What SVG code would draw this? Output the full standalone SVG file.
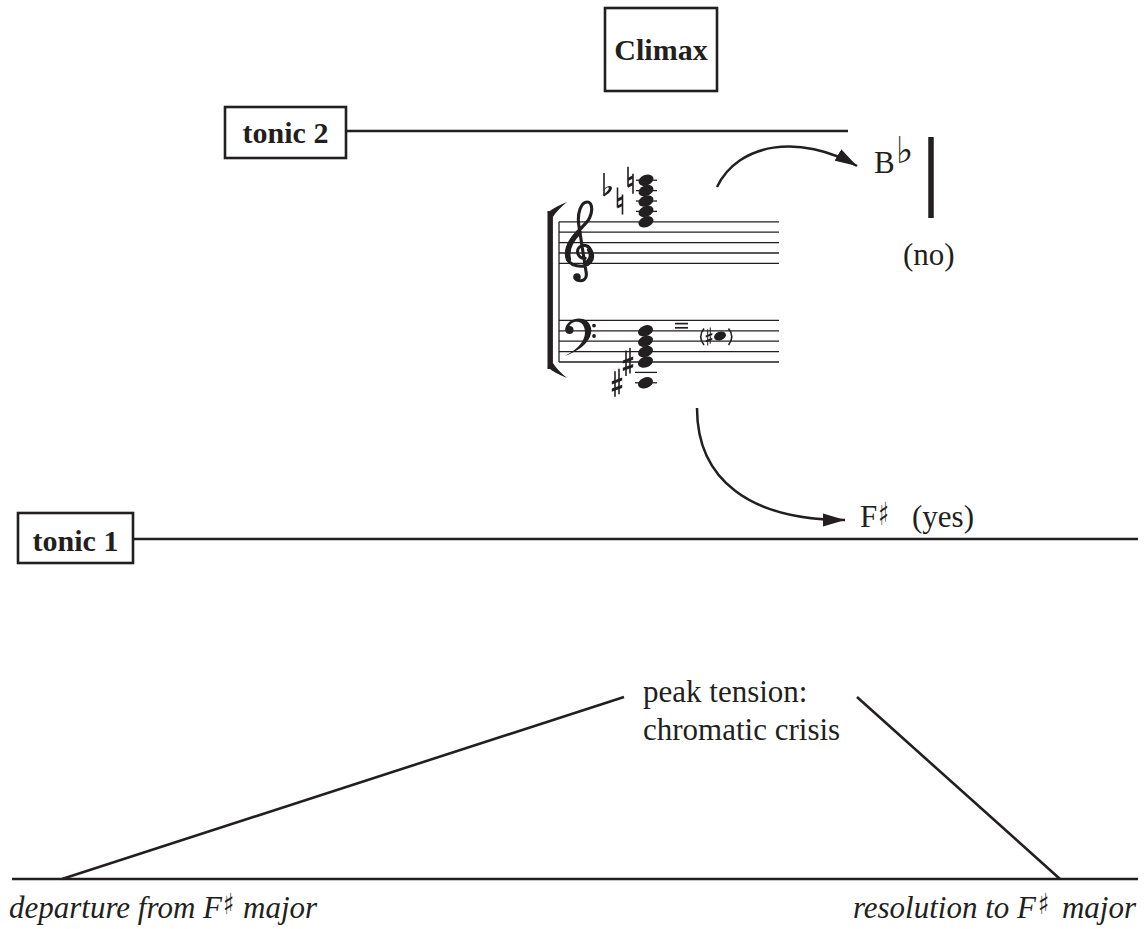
<svg xmlns="http://www.w3.org/2000/svg" xmlns:xlink="http://www.w3.org/1999/xlink" width="1144" height="929" viewBox="0 0 1144 929">
  <style>
    .box { fill: #fff; stroke: #231f20; stroke-width: 2.6; }
    .lbl { font-family: 'Liberation Serif', 'Times New Roman', serif; font-weight: bold; font-size: 30px; fill: #231f20; text-anchor: middle; }
    .txt { font-family: 'Liberation Serif', 'Times New Roman', serif; font-size: 31px; fill: #231f20; }
    .it { font-style: italic; }
    .sym { font-family: 'DejaVu Sans', sans-serif; fill: #231f20; }
    .ln { stroke: #231f20; stroke-width: 2.6; fill: none; }
    .arc { stroke: #231f20; stroke-width: 2.5; fill: none; }
    .staff { stroke: #231f20; stroke-width: 1.3; }
    .ink { fill: #231f20; }
    .thin { stroke: #231f20; stroke-width: 1.6; fill: none; }
  </style>
  <defs>
    <marker id="head" markerUnits="userSpaceOnUse" markerWidth="24" markerHeight="14" refX="22" refY="7" orient="auto">
      <path d="M0,0.5 L22,7 L0,13.5 Z" fill="#231f20"/>
    </marker>
    <ellipse id="nh" rx="7.8" ry="5.3" transform="rotate(-22)" fill="#231f20"/>
    <g id="natural">
      <line x1="-2.5" y1="-13.5" x2="-2.5" y2="6.5" class="thin"/>
      <line x1="2.5" y1="-6.5" x2="2.5" y2="13.5" class="thin"/>
      <polygon points="-2.5,-2.4 2.5,-4.9 2.5,-1.7 -2.5,0.8" fill="#231f20"/>
      <polygon points="-2.5,4.4 2.5,1.9 2.5,5.1 -2.5,7.6" fill="#231f20"/>
    </g>
    <g id="sharp">
      <line x1="-2" y1="-11.5" x2="-2" y2="14" class="thin"/>
      <line x1="2" y1="-14" x2="2" y2="11.5" class="thin"/>
      <polygon points="-5.2,-1.6 5.2,-5.4 5.2,-2.2 -5.2,1.6" fill="#231f20"/>
      <polygon points="-5.2,5.8 5.2,2 5.2,5.2 -5.2,9" fill="#231f20"/>
    </g>
    <g id="flat">
      <line x1="0" y1="-18" x2="0" y2="5" class="thin"/>
      <path d="M0,-1.8 C2.8,-5.5 9,-6.5 7.8,-2 C6.8,1.2 3.4,3.4 0,5.4 L0,3 C2.2,1.5 5.2,-1 4.8,-3.2 C4.3,-4.8 1.6,-3.4 0,-0.4 Z" fill="#231f20"/>
    </g>
  </defs>

  <rect width="1144" height="929" fill="#fff"/>

  <!-- connectors: tonic levels, arrows and the tension curve -->
  <g id="connectors">
    <line class="ln" x1="346" y1="131" x2="848" y2="131"/>
    <line class="ln" x1="133" y1="539" x2="1138" y2="539"/>
    <path class="arc" d="M717,187 C738,143 800,133 857,166" marker-end="url(#head)"/>
    <path class="arc" d="M697,408 C697,480 750,520 845,520" marker-end="url(#head)"/>
    <line x1="931" y1="137" x2="931" y2="218" stroke="#231f20" stroke-width="5.5"/>
    <line class="ln" x1="12" y1="879" x2="1138" y2="879"/>
    <line class="ln" x1="62" y1="879" x2="624" y2="697"/>
    <line class="ln" x1="857" y1="697" x2="1060" y2="879"/>
  </g>

  <g id="climax">
    <rect class="box" x="605" y="8" width="112" height="83"/>
    <text class="lbl" x="661" y="60">Climax</text>
  </g>

  <g id="tonic2">
    <rect class="box" x="225" y="107" width="121" height="51"/>
    <text class="lbl" x="285.5" y="143">tonic 2</text>
  </g>

  <g id="tonic1">
    <rect class="box" x="18" y="513" width="115" height="50"/>
    <text class="lbl" x="75.5" y="551">tonic 1</text>
  </g>

  <!-- the climax chord on a grand staff -->
  <g id="chord">
    <!-- bracket -->
    <rect x="547.5" y="211" width="5.4" height="158" class="ink"/>
    <path d="M547.5,213 C553,208 560,205 567,202 C561,207 556,212 552.9,217 Z" class="ink"/>
    <path d="M547.5,367 C553,372 560,375 567,378 C561,373 556,368 552.9,363 Z" class="ink"/>
    <line x1="559" y1="221.8" x2="559" y2="362" class="staff"/>
    <!-- staves -->
    <g class="staff">
      <line x1="559" y1="221.8" x2="779" y2="221.8"/>
      <line x1="559" y1="232.2" x2="779" y2="232.2"/>
      <line x1="559" y1="242.6" x2="779" y2="242.6"/>
      <line x1="559" y1="253" x2="779" y2="253"/>
      <line x1="559" y1="263.4" x2="779" y2="263.4"/>
      <line x1="559" y1="320.4" x2="779" y2="320.4"/>
      <line x1="559" y1="330.8" x2="779" y2="330.8"/>
      <line x1="559" y1="341.2" x2="779" y2="341.2"/>
      <line x1="559" y1="351.6" x2="779" y2="351.6"/>
      <line x1="559" y1="362" x2="779" y2="362"/>
    </g>
    <!-- treble clef -->
    <g transform="translate(581,253) scale(10.4)" fill="none" stroke="#231f20" stroke-linecap="round">
      <path stroke-width="0.3"
        d="M0.4,0.5 C-0.4,0.6 -0.6,-0.5 0.1,-0.7 C0.9,-0.9 1.4,0.3 0.9,0.9 C0.4,1.5 -1.3,1.4 -1.4,0.2 C-1.5,-1.0 -0.3,-2.0 0.4,-2.8 C1.2,-3.6 1.2,-4.9 0.6,-4.9 C0.0,-4.9 -0.4,-3.8 -0.2,-2.6 L0.5,1.9 C0.6,2.5 0.2,2.8 -0.4,2.6"/>
      <path stroke-width="0.5" d="M-1.2,0.6 C-1.45,-0.4 -0.9,-1.3 -0.2,-2"/>
      <path stroke-width="0.45" d="M0.6,0.95 C1.0,0.6 1.05,0.1 0.8,-0.3"/>
    </g>
    <circle cx="577" cy="277" r="3.8" class="ink"/>
    <!-- bass clef -->
    <path d="M565,330 C566,319 581,315 588,322 C596,331 590,347 565,356 C584,346 588,334 583,325 C580,320 571,321 569,327 Z" class="ink"/>
    <circle cx="569.5" cy="330" r="4" class="ink"/>
    <circle cx="594" cy="325.6" r="1.9" class="ink"/>
    <circle cx="594" cy="336" r="1.9" class="ink"/>
    <!-- upper chord with ledger lines -->
    <g class="staff">
      <line x1="636" y1="211.4" x2="657" y2="211.4"/>
      <line x1="636" y1="201" x2="657" y2="201"/>
      <line x1="636" y1="190.6" x2="657" y2="190.6"/>
      <line x1="636" y1="180.2" x2="657" y2="180.2"/>
    </g>
    <use xlink:href="#nh" x="646" y="221.8"/>
    <use xlink:href="#nh" x="646" y="211.4"/>
    <use xlink:href="#nh" x="646" y="201"/>
    <use xlink:href="#nh" x="646" y="190.6"/>
    <use xlink:href="#nh" x="646" y="180.2"/>
    <use xlink:href="#flat" x="604" y="191"/>
    <use xlink:href="#natural" x="620" y="201"/>
    <use xlink:href="#natural" x="630.5" y="180.2"/>
    <!-- lower chord -->
    <g class="staff">
      <line x1="635" y1="372.4" x2="657" y2="372.4"/>
      <line x1="635" y1="382.8" x2="657" y2="382.8"/>
    </g>
    <use xlink:href="#nh" x="645.5" y="330.8"/>
    <use xlink:href="#nh" x="645.5" y="341.2"/>
    <use xlink:href="#nh" x="645.5" y="351.6"/>
    <use xlink:href="#nh" x="645.5" y="362"/>
    <use xlink:href="#nh" x="645.5" y="382.8"/>
    <use xlink:href="#sharp" x="628" y="362"/>
    <use xlink:href="#sharp" x="617" y="382.8"/>
    <!-- enharmonic equivalent -->
    <line x1="675" y1="323.6" x2="688" y2="323.6" stroke="#231f20" stroke-width="1.7"/>
    <line x1="675" y1="327.8" x2="688" y2="327.8" stroke="#231f20" stroke-width="1.7"/>
    <path d="M704,328.5 Q697.5,336.5 704,345" class="thin"/>
    <use xlink:href="#sharp" transform="translate(709,336.5) scale(0.64)"/>
    <ellipse cx="720" cy="336" rx="6.2" ry="4.3" transform="rotate(-20 720 336)" class="ink"/>
    <path d="M728.5,328.5 Q735,336.5 728.5,345" class="thin"/>
  </g>

  <g id="bflat">
    <text class="txt" x="874" y="173">B</text>
    <text class="sym" x="896" y="163" font-size="37">♭</text>
    <text class="txt" x="903" y="265">(no)</text>
  </g>

  <g id="fsharp">
    <text class="txt" x="860" y="527">F</text>
    <text class="sym" font-size="32" transform="translate(878,525) scale(0.7,1)">♯</text>
    <text class="txt" x="912" y="527">(yes)</text>
  </g>

  <g id="peak">
    <text class="txt" x="643" y="702">peak tension:</text>
    <text class="txt" x="643" y="740">chromatic crisis</text>
  </g>

  <g id="departure">
    <text class="txt it" x="9" y="918">departure from F</text>
    <text class="sym" font-size="29" transform="translate(223,914) scale(0.8,1)">♯</text>
    <text class="txt it" x="243" y="918">major</text>
  </g>

  <g id="resolution">
    <text class="txt it" x="1036" y="918" text-anchor="end">resolution to F</text>
    <text class="sym" font-size="29" transform="translate(1038,914) scale(0.8,1)">♯</text>
    <text class="txt it" x="1136" y="918" text-anchor="end">major</text>
  </g>
</svg>
